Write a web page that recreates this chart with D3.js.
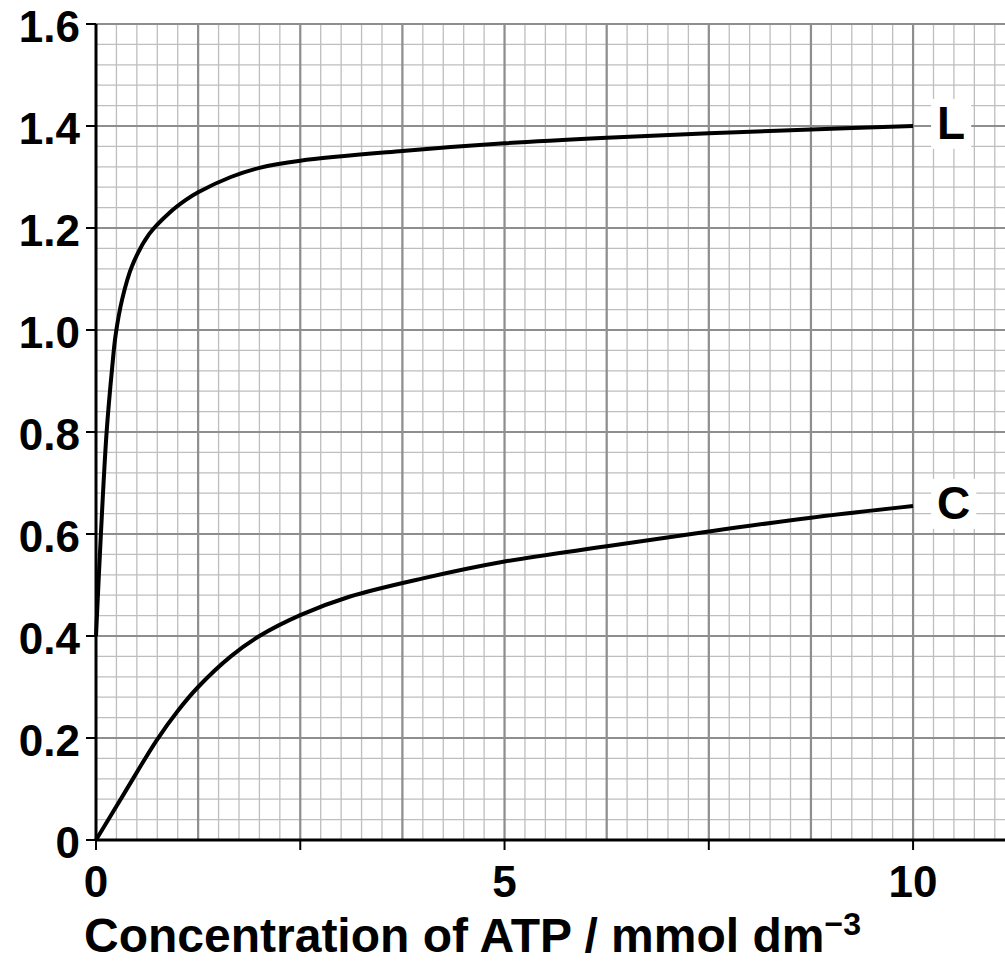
<!DOCTYPE html>
<html>
<head>
<meta charset="utf-8">
<script src="https://cdn.jsdelivr.net/npm/d3@7"></script>
<style>
    body { margin: 0; background: #fff; }
    svg { display: block; }
    text { font-family: "Liberation Sans", Arial, sans-serif; font-weight: bold; fill: #000; }
</style>
</head>
<body>
<div id="chart"></div>
<script>
// values
const concL = [0, 0.06, 0.13, 0.2, 0.24, 0.32, 0.44, 0.65, 0.9, 1.1, 1.25, 1.65, 2.0, 2.5, 3.75, 5, 6.25, 7.5, 8.75, 10];
const rateL = [0.40, 0.60, 0.80, 0.93, 0.99, 1.06, 1.125, 1.188, 1.23, 1.255, 1.27, 1.30, 1.318, 1.332, 1.351, 1.366, 1.377, 1.386, 1.393, 1.40];
const concC = [0, 0.34, 0.74, 1.0, 1.25, 1.65, 2.0, 2.5, 3.1, 4.0, 5, 6.25, 7.5, 8.75, 10];
const rateC = [0, 0.09, 0.195, 0.253, 0.30, 0.36, 0.40, 0.441, 0.477, 0.513, 0.546, 0.576, 0.605, 0.632, 0.655];
const yTicks = [0, 0.2, 0.4, 0.6, 0.8, 1.0, 1.2, 1.4, 1.6];
const yTickLabels = ["0", "0.2", "0.4", "0.6", "0.8", "1.0", "1.2", "1.4", "1.6"];
const xTicks = [0, 2.5, 5, 7.5, 10];
const xTickLabels = ["0", "", "5", "", "10"];
const seriesNames = ["L", "C"];

const width = 1005, height = 961;
const margin = {top: 24, right: 0, bottom: 121, left: 96};

const svg = d3.select("#chart").append("svg")
    .attr("width", width)
    .attr("height", height);

const x = d3.scaleLinear().domain([0, 11.125]).range([margin.left, width - margin.right]);
const y = d3.scaleLinear().domain([0, 1.6]).range([height - margin.bottom, margin.top]);

// graph paper: minor then major lines
const xMinor = d3.range(0, 11.126, 0.25);
const yMinor = d3.range(0, 1.6001, 0.04);
const xMajor = d3.range(1.25, 11.126, 1.25);
const yMajor = d3.range(0.2, 1.6001, 0.2);

const grid = svg.append("g");
grid.selectAll("line.vminor").data(xMinor).enter().append("line")
    .attr("x1", d => x(d)).attr("x2", d => x(d))
    .attr("y1", y(0)).attr("y2", y(1.6))
    .attr("stroke", "#bebebe").attr("stroke-width", 1.3);
grid.selectAll("line.hminor").data(yMinor).enter().append("line")
    .attr("x1", x(0)).attr("x2", width)
    .attr("y1", d => y(d)).attr("y2", d => y(d))
    .attr("stroke", "#bebebe").attr("stroke-width", 1.3);
grid.selectAll("line.vmajor").data(xMajor).enter().append("line")
    .attr("x1", d => x(d)).attr("x2", d => x(d))
    .attr("y1", y(0)).attr("y2", y(1.6))
    .attr("stroke", "#8e8e8e").attr("stroke-width", 2.2);
grid.selectAll("line.hmajor").data(yMajor).enter().append("line")
    .attr("x1", x(0)).attr("x2", width)
    .attr("y1", d => y(d)).attr("y2", d => y(d))
    .attr("stroke", "#8e8e8e").attr("stroke-width", 2.2);

// curves
const line = d3.line()
    .x(d => x(d[0]))
    .y(d => y(d[1]))
    .curve(d3.curveCatmullRom.alpha(0.5));

const series = [
    d3.zip(concL, rateL),
    d3.zip(concC, rateC)
];

svg.selectAll("path.curve").data(series).enter().append("path")
    .attr("class", "curve")
    .attr("d", line)
    .attr("fill", "none")
    .attr("stroke", "#000")
    .attr("stroke-width", 4);

// curve labels on white patches
series.forEach((s, i) => {
    const last = s[s.length - 1];
    const g = svg.append("g");
    const t = g.append("text")
        .attr("x", x(last[0]) + 24)
        .attr("y", y(last[1]))
        .attr("dy", "0.28em")
        .attr("font-size", 46)
        .text(seriesNames[i]);
    const b = t.node().getBBox();
    g.insert("rect", "text")
        .attr("x", b.x - 6).attr("y", b.y + 2)
        .attr("width", b.width + 12).attr("height", b.height - 2)
        .attr("fill", "#fff");
});

// axes
const axisG = svg.append("g");
axisG.append("line")
    .attr("x1", x(0)).attr("x2", x(0))
    .attr("y1", y(1.6)).attr("y2", y(0))
    .attr("stroke", "#000").attr("stroke-width", 3);
axisG.append("line")
    .attr("x1", x(0)).attr("x2", width)
    .attr("y1", y(0)).attr("y2", y(0))
    .attr("stroke", "#000").attr("stroke-width", 3);

axisG.selectAll("line.ytick").data(yTicks).enter().append("line")
    .attr("x1", x(0) - 10).attr("x2", x(0))
    .attr("y1", d => y(d)).attr("y2", d => y(d))
    .attr("stroke", "#000").attr("stroke-width", 2);
axisG.selectAll("line.xtick").data(xTicks).enter().append("line")
    .attr("x1", d => x(d)).attr("x2", d => x(d))
    .attr("y1", y(0)).attr("y2", y(0) + 10)
    .attr("stroke", "#000").attr("stroke-width", 2);

axisG.selectAll("text.ylab").data(yTicks).enter().append("text")
    .attr("x", x(0) - 16)
    .attr("y", d => y(d))
    .attr("dy", "0.42em")
    .attr("text-anchor", "end")
    .attr("font-size", 44)
    .text((d, i) => yTickLabels[i]);

axisG.selectAll("text.xlab").data(xTicks).enter().append("text")
    .attr("x", d => x(d))
    .attr("y", y(0) + 57)
    .attr("text-anchor", "middle")
    .attr("font-size", 44)
    .text((d, i) => xTickLabels[i]);

const title = svg.append("text")
    .attr("x", 84)
    .attr("y", 952)
    .attr("font-size", 48);
title.append("tspan").text("Concentration of ATP / mmol dm");
title.append("tspan")
    .attr("font-size", 32)
    .attr("dy", -17)
    .text("\u22123");
</script>
</body>
</html>
